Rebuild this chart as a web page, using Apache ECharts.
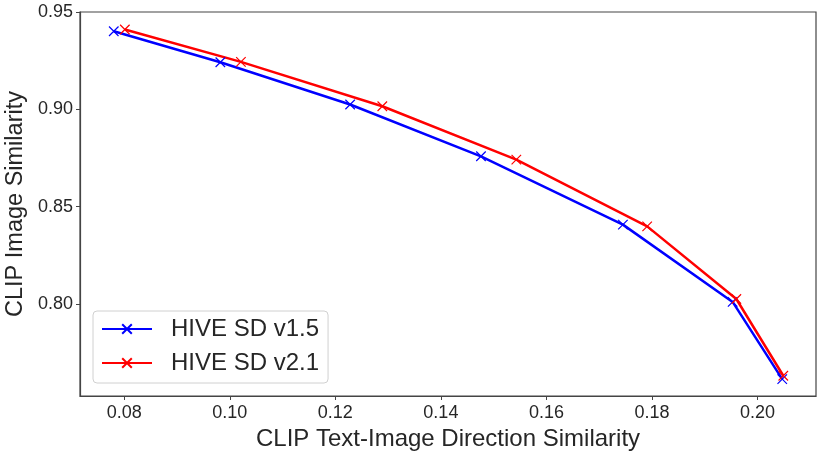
<!DOCTYPE html>
<html>
<head>
<meta charset="utf-8">
<script src="https://cdn.jsdelivr.net/npm/echarts@6/dist/echarts.min.js"></script>
<style>
  html, body { margin: 0; padding: 0; background: #fff; }
  #chart { width: 823px; height: 459px; }
</style>
</head>
<body>
<div id="chart"></div>
<script>
var sd15X = [0.0780, 0.0982, 0.1228, 0.1476, 0.1745, 0.1953, 0.2047];
var sd15Y = [0.9401, 0.9242, 0.9025, 0.8759, 0.8408, 0.8011, 0.7615];
var sd21X = [0.0801, 0.1021, 0.1289, 0.1543, 0.1791, 0.1960, 0.2049];
var sd21Y = [0.9410, 0.9244, 0.9016, 0.8742, 0.8399, 0.8026, 0.7632];
var xTicks = [0.08, 0.10, 0.12, 0.14, 0.16, 0.18, 0.20];
var yTicks = [0.80, 0.85, 0.90, 0.95];

var chart = echarts.init(document.getElementById('chart'));
var font = 'Liberation Sans, Arial, sans-serif';
var txt = '#262626';
var cross = 'path://M0,0L10,10M10,0L0,10';

function pairs(xs, ys) {
    return xs.map(function (x, i) { return [x, ys[i]]; });
}

function makeSeries(name, color, xs, ys) {
    return {
        name: name,
        type: 'line',
        data: pairs(xs, ys),
        symbol: cross,
        symbolSize: 9.5,
        showAllSymbol: true,
        lineStyle: { color: color, width: 2.5 },
        itemStyle: { color: color, borderColor: color, borderWidth: 1.2 },
        emphasis: { disabled: true },
        animation: false
    };
}

var option = {
    animation: false,
    grid: {
        left: 80, right: 7, top: 12, bottom: 63,
        containLabel: false,
        outerBoundsMode: 'none',
        show: true, borderColor: '#444', borderWidth: 1.2
    },
    legend: {
        orient: 'vertical',
        left: 93, top: 311,
        padding: [6, 9, 8, 8],
        itemGap: 10,
        itemWidth: 50, itemHeight: 12,
        backgroundColor: 'rgba(255,255,255,0.8)',
        borderColor: '#d0d0d0', borderWidth: 1, borderRadius: 4,
        textStyle: { fontFamily: font, fontSize: 24, color: txt, padding: [0, 0, 0, 14] },
        data: ['HIVE SD v1.5', 'HIVE SD v2.1']
    },
    xAxis: {
        type: 'value',
        min: 0.0716, max: 0.2111,
        name: 'CLIP Text-Image Direction Similarity',
        nameLocation: 'middle', nameGap: 30,
        nameTextStyle: { fontFamily: font, fontSize: 24, color: txt },
        axisLine: { show: true, lineStyle: { color: '#444', width: 1.2 } },
        axisTick: { show: true, length: 4, lineStyle: { color: '#444' }, customValues: xTicks },
        axisLabel: {
            fontFamily: font, fontSize: 18, color: txt, margin: 8,
            customValues: xTicks,
            formatter: function (v) { return v.toFixed(2); }
        },
        splitLine: { show: false }
    },
    yAxis: {
        type: 'value',
        min: 0.7528, max: 0.95,
        name: 'CLIP Image Similarity',
        nameLocation: 'middle', nameGap: 48,
        nameTextStyle: { fontFamily: font, fontSize: 23.5, color: txt },
        axisLine: { show: true, lineStyle: { color: '#444', width: 1.2 } },
        axisTick: { show: true, length: 4, lineStyle: { color: '#444' }, customValues: yTicks },
        axisLabel: {
            fontFamily: font, fontSize: 18, color: txt, margin: 7,
            customValues: yTicks,
            formatter: function (v) { return v.toFixed(2); }
        },
        splitLine: { show: false }
    },
    series: [
        makeSeries('HIVE SD v1.5', '#0000ff', sd15X, sd15Y),
        makeSeries('HIVE SD v2.1', '#ff0000', sd21X, sd21Y)
    ]
};

chart.setOption(option);
</script>
</body>
</html>
